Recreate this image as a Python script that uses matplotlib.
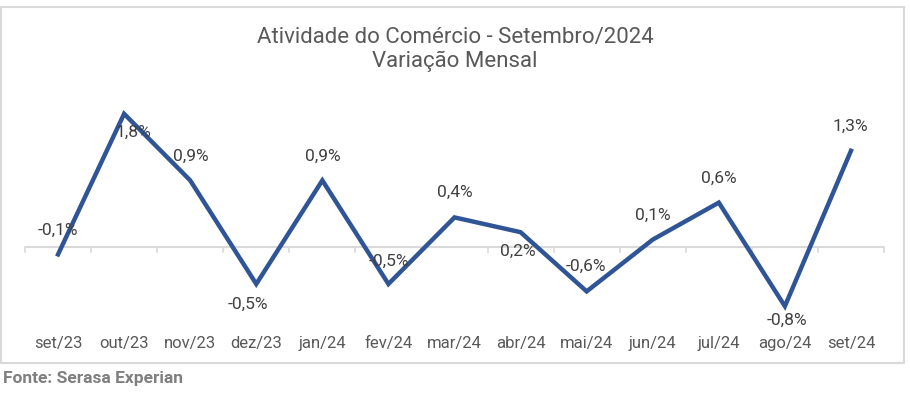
"""Atividade do Comércio - variação mensal (Serasa Experian)."""

import matplotlib.pyplot as plt
from matplotlib.patches import Rectangle

plt.rcParams["font.family"] = ["Roboto", "DejaVu Sans"]

months = ["set/23", "out/23", "nov/23", "dez/23", "jan/24", "fev/24", "mar/24",
          "abr/24", "mai/24", "jun/24", "jul/24", "ago/24", "set/24"]
variation = [-0.1, 1.8, 0.9, -0.5, 0.9, -0.5, 0.4, 0.2, -0.6, 0.1, 0.6, -0.8, 1.3]
value_labels = ["-0,1%", "1,8%", "0,9%", "-0,5%", "0,9%", "-0,5%", "0,4%",
                "0,2%", "-0,6%", "0,1%", "0,6%", "-0,8%", "1,3%"]
# label offsets in pixels (dx, dy) relative to each point
label_offsets = [(0, 24), (9, -19), (1, 24), (-8, -20), (0, 24), (0, 23), (0, 25),
                 (-3, -19), (-1, 25), (0, 24), (0, 24), (2, -14), (-1, 24)]

TEXT = "#595959"
LINE = "#2F5597"
GRID = "#D9D9D9"

fig = plt.figure(figsize=(9.1, 3.93), dpi=100)
fig.patches.append(Rectangle((1 / 910, 1 - 363 / 393), 903 / 910, 356 / 393,
                             transform=fig.transFigure, fill=False,
                             edgecolor=GRID, linewidth=1.5))

ax = fig.add_axes([25 / 910, 1 - 321 / 393, 859 / 910, 222 / 393])
x = list(range(len(months)))
ax.plot(x, variation, color=LINE, linewidth=3.2, solid_joinstyle="miter")

for xi, yi, lab, (dx, dy) in zip(x, variation, value_labels, label_offsets):
    ax.annotate(lab, (xi, yi), xytext=(dx, dy), textcoords="offset pixels",
                ha="center", va="center", fontsize=12.5, color="#404040")

ax.set_xlim(-0.5, len(months) - 0.5)
ax.set_ylim(-1.0, 2.0)
ax.axhline(0, color=GRID, linewidth=1.5, zorder=0)
for b in range(len(months) + 1):
    ax.plot([b - 0.5, b - 0.5], [0, -0.07], color=GRID, linewidth=1.2, zorder=0,
            clip_on=False)

for spine in ax.spines.values():
    spine.set_visible(False)
ax.set_yticks([])
ax.set_xticks(x)
ax.set_xticklabels(months, fontsize=12, color=TEXT)
ax.tick_params(axis="x", length=0, pad=11)

fig.text(0.5, 1 - 37 / 393, "Atividade do Comércio - Setembro/2024", ha="center",
         va="center", fontsize=16, color=TEXT)
fig.text(0.5, 1 - 61 / 393, "Variação Mensal", ha="center", va="center",
         fontsize=16, color=TEXT)
fig.text(3 / 910, 1 - 379 / 393, "Fonte: Serasa Experian", ha="left", va="center",
         fontsize=12.5, fontweight="bold", color="#7F7F7F")

fig.savefig("out.png", dpi=100)
